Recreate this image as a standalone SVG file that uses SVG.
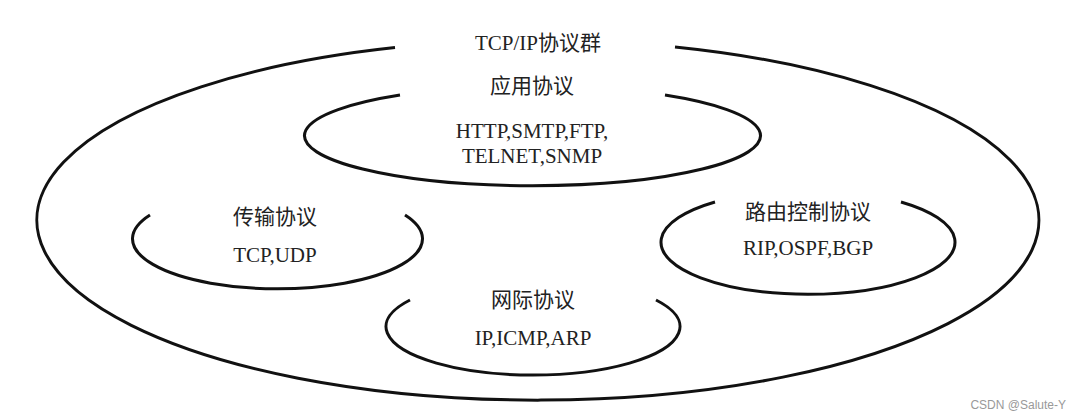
<svg xmlns="http://www.w3.org/2000/svg" width="1076" height="419" viewBox="0 0 1076 419">
<style>
.c{fill:none;stroke:#111;stroke-width:3}
text{font-family:"Liberation Serif","Noto Sans CJK SC",serif;font-size:21px;fill:#222;text-anchor:middle}
.w{font-family:"Liberation Sans",sans-serif;font-size:12px;fill:#999;text-anchor:end}
</style>
<rect width="1076" height="419" fill="#fff"/>
<g id="connectors">
<path class="c" d="M395,47.6 A501,180 0 1 0 675,47"/>
<path class="c" d="M400,95 A228,50 0 1 0 665,95"/>
<path class="c" d="M150,215 A145,50 0 1 0 405,215"/>
<path class="c" d="M715,202 A147,52 0 1 0 901,202"/>
<path class="c" d="M410,300 A147,48.5 0 1 0 656,300"/>
</g>
<g id="outer"><text x="538" y="50">TCP/IP协议群</text></g>
<g id="app"><text x="532" y="93">应用协议</text><text x="532" y="138">HTTP,SMTP,FTP,</text><text x="532" y="163">TELNET,SNMP</text></g>
<g id="transport"><text x="275" y="224">传输协议</text><text x="275" y="262">TCP,UDP</text></g>
<g id="routing"><text x="808" y="219">路由控制协议</text><text x="808" y="255">RIP,OSPF,BGP</text></g>
<g id="ip"><text x="533" y="307">网际协议</text><text x="533" y="345">IP,ICMP,ARP</text></g>
<text class="w" x="1066" y="409">CSDN @Salute-Y</text>
</svg>
